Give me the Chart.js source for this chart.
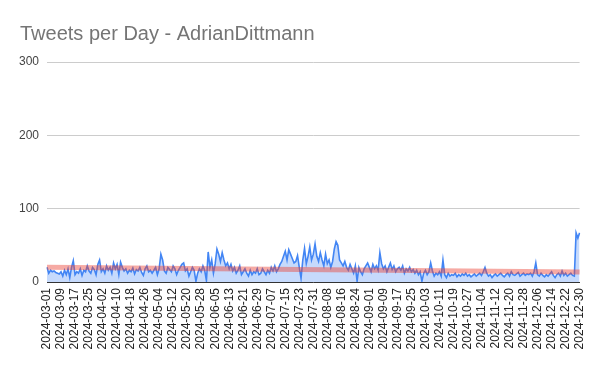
<!DOCTYPE html>
<html>
<head>
<meta charset="utf-8">
<script src="https://cdn.jsdelivr.net/npm/chart.js@4"></script>
<style>
html,body{margin:0;padding:0;background:#fff;}
#wrap{position:relative;width:600px;height:371px;}
</style>
</head>
<body>
<div id="wrap"><canvas id="c" width="600" height="371"></canvas></div>
<script>
const chartTitle = "Tweets per Day - AdrianDittmann";
const startDate = "2024-03-01";
const labelEvery = 8;
const yTicks = [0, 100, 200, 300];

// Daily tweet counts, one array per month
const mar = [20,12,16,14,15,13,12,11,14,8,16,10,18,6,20,29,10,14,12,18,9,16,14,22,15,12,20,17,10,24,30];
const apr = [14,18,12,22,16,20,12,26,18,24,10,27,20,15,18,12,16,14,19,11,17,15,20,13,9,18,22,14,16,12];
const may = [16,20,10,18,38,30,15,12,20,17,14,22,18,10,16,20,24,26,15,18,8,14,20,16,1,12,18,14,22,16,2];
const jun = [41,20,30,12,25,45,38,28,40,30,22,26,18,24,15,20,12,16,22,10,14,18,12,8,16,10,14,12,18,10];
const jul = [12,18,14,10,16,12,20,15,22,14,18,24,28,35,42,30,44,38,32,26,28,36,20,5,30,46,25,35,48,30,38];
const aug = [52,35,28,40,30,22,38,25,30,20,28,45,55,50,30,26,22,28,20,16,24,18,12,22,1,20,14,10,18,22,26];
const sep = [20,14,24,18,22,16,40,25,18,22,14,20,26,17,22,14,18,20,16,22,12,18,15,20,14,17,12,16,10,14];
const oct = [1,12,16,10,14,26,15,8,12,10,14,8,30,10,6,12,8,10,9,12,7,10,8,11,9,12,8,10,7,9,11];
const nov = [8,10,12,9,14,20,12,8,10,6,9,11,8,10,12,9,7,10,12,8,14,10,9,11,13,8,10,12,9,11];
const dec = [10,12,8,14,26,10,8,12,9,7,10,8,11,14,9,6,10,12,8,15,9,12,8,10,12,9,8,67,60,67];

// trendline end values (first day, last day)
const trendEnds = [20, 13.5];

const tweets = [].concat(mar, apr, may, jun, jul, aug, sep, oct, nov, dec);

// categories: consecutive days
const days = [];
{
  const [y, m, d] = startDate.split('-').map(Number);
  for (let i = 0; i < tweets.length; i++) {
    days.push(new Date(Date.UTC(y, m - 1, d + i)).toISOString().slice(0, 10));
  }
}

const titlePlugin = {
  id: 'leftTitle',
  afterDraw(chart) {
    const ctx = chart.ctx;
    ctx.save();
    ctx.font = '20px "Liberation Sans", Arial, sans-serif';
    ctx.fillStyle = '#757575';
    ctx.textBaseline = 'alphabetic';
    ctx.textAlign = 'left';
    ctx.fillText(chartTitle, 20, 40);
    ctx.restore();
  }
};

new Chart(document.getElementById('c'), {
  type: 'line',
  data: {
    labels: days,
    datasets: [
      {
        label: 'Trend',
        data: [
          { x: days[0], y: trendEnds[0] },
          { x: days[days.length - 1], y: trendEnds[1] }
        ],
        borderColor: 'rgba(234,67,53,0.45)',
        borderWidth: 5,
        pointRadius: 0,
        fill: false,
        tension: 0,
        order: 0
      },
      {
        label: 'Tweets',
        data: tweets,
        borderColor: '#4285f4',
        backgroundColor: 'rgba(66,133,244,0.3)',
        borderWidth: 1.6,
        pointRadius: 0,
        fill: 'origin',
        tension: 0,
        order: 1
      }
    ]
  },
  options: {
    responsive: false,
    animation: false,
    devicePixelRatio: 1,
    layout: { padding: { top: 62, right: 18, left: 0, bottom: 0 } },
    plugins: { legend: { display: false }, title: { display: false }, tooltip: { enabled: false } },
    scales: {
      x: {
        type: 'category',
        offset: false,
        grid: { display: false, drawTicks: false },
        border: { display: true, color: '#333333', width: 1 },
        ticks: {
          autoSkip: false,
          maxRotation: 90,
          minRotation: 90,
          padding: 6,
          color: '#222222',
          font: { size: 12, family: '"Liberation Sans", Arial, sans-serif' },
          callback: function(val, idx) { return idx % labelEvery === 0 ? days[idx] : ''; }
        },
        afterFit(scale) { scale.height = 89; }
      },
      y: {
        min: yTicks[0],
        max: yTicks[yTicks.length - 1],
        afterBuildTicks(scale) { scale.ticks = yTicks.map(v => ({ value: v })); },
        grid: { color: '#cccccc', drawTicks: false },
        border: { display: false },
        ticks: {
          padding: 8,
          color: '#444444',
          font: { size: 12, family: '"Liberation Sans", Arial, sans-serif' }
        },
        afterFit(scale) { scale.width = 47; }
      }
    }
  },
  plugins: [titlePlugin]
});
</script>
</body>
</html>
